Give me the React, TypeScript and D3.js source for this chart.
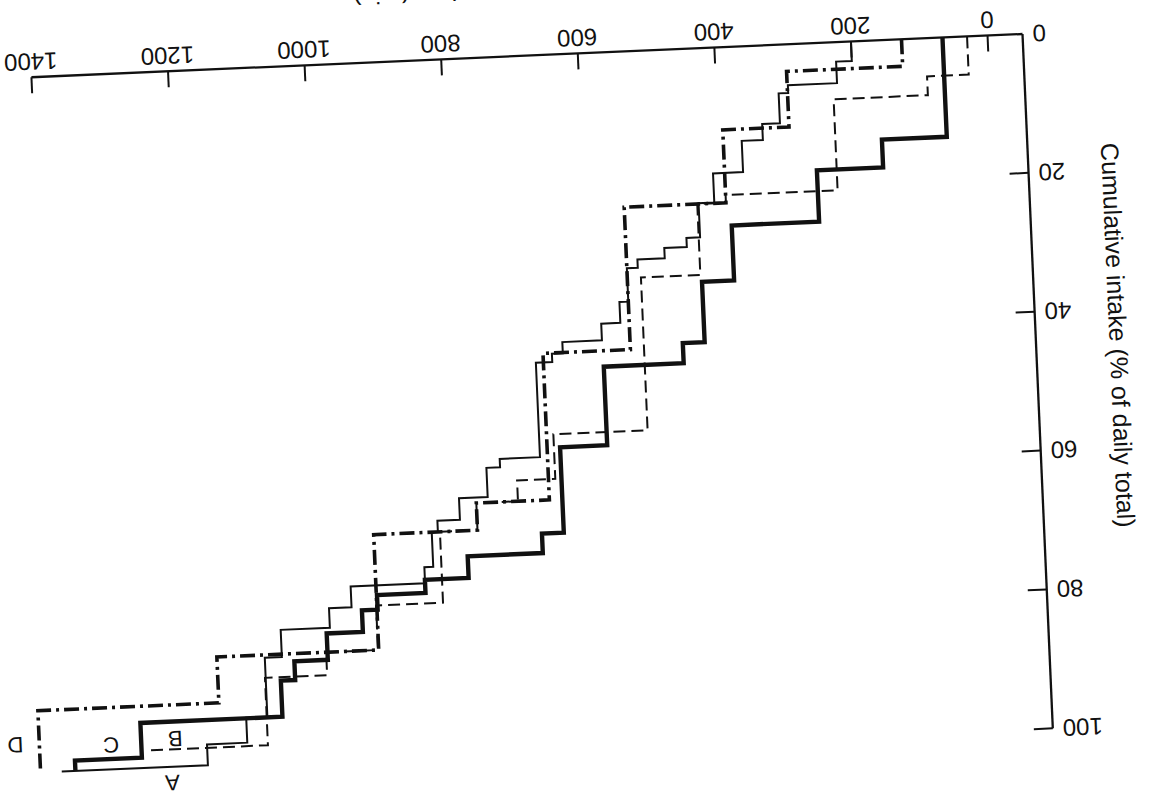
import React from 'react';
import * as d3 from 'd3';

// Axis ticks
const xTicks = [0, 200, 400, 600, 800, 1000, 1200, 1400];
const yTicks = [0, 20, 40, 60, 80, 100];

// Series A (thin solid): times of intake (min) and cumulative % after each intake
const aTimes = [200, 223, 295, 309, 335, 366, 410, 433, 453, 486, 526, 542, 555, 583, 641, 657, 681, 740, 760, 802, 835, 844, 857, 966, 999, 1071, 1096, 1127, 1186];
const aValues = [2.8, 5.9, 7.0, 11.3, 13.6, 18.1, 22.3, 27.2, 28.5, 30.0, 31.2, 36.0, 39.0, 41.4, 43.0, 44.2, 57.8, 59.0, 63.2, 66.3, 67.9, 72.9, 75.2, 78.2, 81.0, 84.9, 93.4, 97.0, 100];
const aEnd = 1400;

// Series B (dashed)
const bTimes = [30, 91, 229, 393, 435, 522, 660, 716, 777, 832, 930, 1006, 1097];
const bValues = [5.5, 8.2, 21.3, 22.4, 32.6, 54.6, 61.0, 64.0, 67.9, 78.1, 84.5, 87.8, 97.5];
const bEnd = 1273;

// Series C (thick solid)
const cTimes = [66, 161, 258, 386, 433, 465, 582, 651, 683, 793, 857, 928, 951, 1004, 1053, 1074, 1282, 1380];
const cValues = [14.3, 18.3, 25.7, 33.6, 42.3, 45.2, 56.5, 68.8, 71.6, 74.7, 76.6, 78.7, 81.8, 85.6, 88.3, 93.5, 98.5, 100];

// Series D (thick dash-dot)
const dTimes = [126, 296, 393, 542, 670, 777, 929, 1166, 1431];
const dValues = [3.9, 11.9, 22.4, 42.9, 64.0, 67.9, 84.5, 91.1, 100];

// Curve labels: [name, time, value]
const curveLabels: [string, number, number][] = [
  ['A', 1239, 102.3],
  ['B', 1232, 96.0],
  ['C', 1326, 96.5],
  ['D', 1466, 95.9],
];

const yTitle = 'Cumulative intake (% of daily total)';
const xTitle = 'Time (min)';

const FONT = '"Liberation Sans", Arial, Helvetica, sans-serif';

function stepPoints(times: number[], values: number[], end?: number): [number, number][] {
  const p: [number, number][] = [[times[0], 0]];
  times.forEach((t, i) => p.push([t, values[i]]));
  if (end !== undefined) p.push([end, values[values.length - 1]]);
  return p;
}

export default function App() {
  const W = 1157;
  const H = 799;
  const x = d3.scaleLinear().domain([0, 1400]).range([35, 992]);
  const y = d3.scaleLinear().domain([0, 100]).range([0, -695]);
  const line = d3
    .line<[number, number]>()
    .x((d) => x(d[0]))
    .y((d) => y(d[1]))
    .curve(d3.curveStepAfter);

  const series = [
    { key: 'A', d: line(stepPoints(aTimes, aValues, aEnd)), w: 2, dash: undefined },
    { key: 'B', d: line(stepPoints(bTimes, bValues, bEnd)), w: 2, dash: '12 6' },
    { key: 'C', d: line(stepPoints(cTimes, cValues)), w: 4.4, dash: undefined },
    { key: 'D', d: line(stepPoints(dTimes, dValues)), w: 3.6, dash: '15 5 3 5' },
  ];

  return (
    <div style={{ position: 'fixed', left: 0, top: 0 }}>
      <svg width={W} height={H} style={{ display: 'block', background: '#fff' }}>
        <rect width={W} height={H} fill="#fff" />
        <g transform="translate(1022.5,34) rotate(177.5)" fontFamily={FONT} fill="#111">
          {/* axes */}
          <line x1={0} y1={0} x2={x(1400)} y2={0} stroke="#111" strokeWidth={2.3} />
          <line x1={0} y1={0} x2={0} y2={y(100)} stroke="#111" strokeWidth={2.3} />
          {xTicks.map((t) => (
            <g key={'xt' + t}>
              <line x1={x(t)} x2={x(t)} y1={0} y2={-16} stroke="#111" strokeWidth={2} />
              <text x={x(t)} y={24} fontSize={24} textAnchor="middle">
                {t}
              </text>
            </g>
          ))}
          {yTicks.map((v) => (
            <g key={'yt' + v}>
              {v > 0 && <line x1={0} x2={19} y1={y(v)} y2={y(v)} stroke="#111" strokeWidth={2} />}
              <text x={-10} y={y(v)} dy="0.35em" fontSize={24} textAnchor="end">
                {v}
              </text>
            </g>
          ))}
          <text x={x(925)} y={76} fontSize={25} textAnchor="end">
            {xTitle}
          </text>
          <text
            transform={`translate(-73.5,${y(43.9)}) rotate(-90)`}
            fontSize={25}
            textAnchor="middle"
          >
            {yTitle}
          </text>
          {/* series */}
          {series.map((s) => (
            <path
              key={s.key}
              d={s.d || ''}
              fill="none"
              stroke="#111"
              strokeWidth={s.w}
              strokeDasharray={s.dash}
              strokeLinejoin="miter"
            />
          ))}
          {curveLabels.map(([n, t, v]) => (
            <text key={'lab' + n} x={x(t)} y={y(v)} dy="0.35em" fontSize={22} textAnchor="middle">
              {n}
            </text>
          ))}
        </g>
      </svg>
    </div>
  );
}
